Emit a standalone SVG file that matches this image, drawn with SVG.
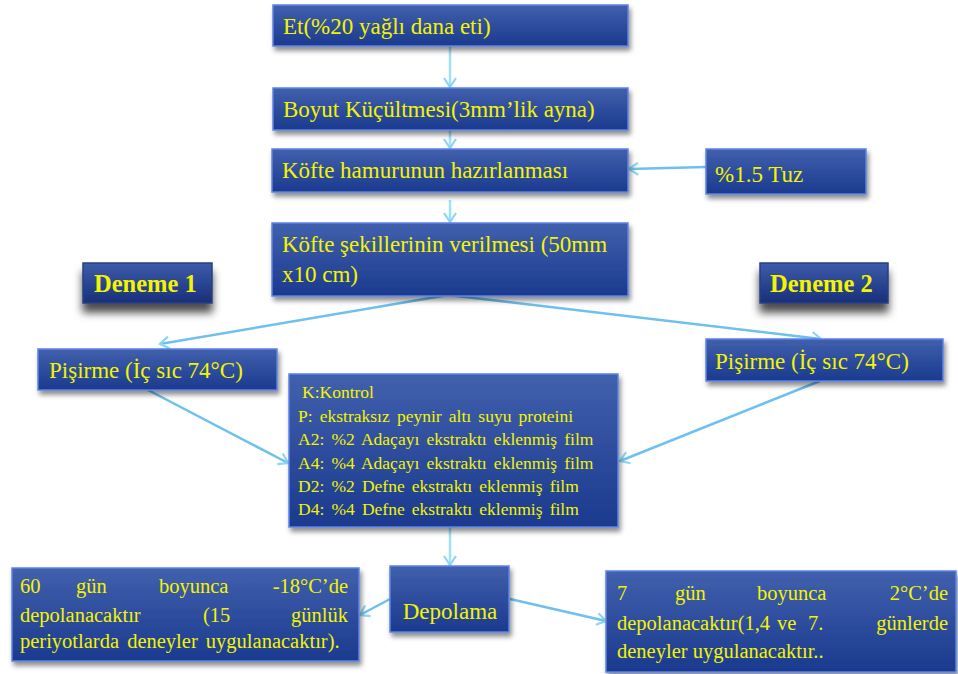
<svg xmlns="http://www.w3.org/2000/svg" width="958" height="674" viewBox="0 0 958 674">
<defs>
<linearGradient id="g" x1="0" y1="0" x2="0" y2="1">
<stop offset="0" stop-color="#4160ad"/>
<stop offset="1" stop-color="#1b3a8e"/>
</linearGradient>
<linearGradient id="gd" x1="0" y1="0" x2="0" y2="1">
<stop offset="0" stop-color="#3d5cab"/>
<stop offset="1" stop-color="#182f78"/>
</linearGradient>
<filter id="sh" x="-10%" y="-10%" width="125%" height="135%">
<feDropShadow dx="2" dy="4" stdDeviation="2.5" flood-color="#000" flood-opacity="0.45"/>
</filter>
<filter id="shd" x="-10%" y="-10%" width="125%" height="160%">
<feDropShadow dx="0" dy="9" stdDeviation="4" flood-color="#000" flood-opacity="0.7"/>
</filter>
<marker id="ah" markerWidth="14" markerHeight="14" refX="11" refY="7" orient="auto" markerUnits="userSpaceOnUse">
<polyline points="2,1 11,7 2,13" fill="none" stroke="#8ad6f5" stroke-width="2.2"/>
</marker>
<style>
.b{fill:url(#g);stroke:#5d82e6;stroke-width:1.5;filter:url(#sh)}
.bd{fill:url(#gd);stroke:#2a3f80;stroke-width:1.5;filter:url(#shd)}
.t{font-family:'Liberation Serif','Times New Roman',serif;fill:#f4f400;font-size:23px}
.s{font-size:17.5px;word-spacing:2.8px}
.m{font-size:20.5px}
.h{font-family:'Liberation Serif','Times New Roman',serif;fill:#f4f400;font-size:24.5px;font-weight:bold}
.c{fill:none;stroke:#6ec0ee;stroke-width:2.5;marker-end:url(#ah)}
.v{fill:none;stroke:#9fe2f5;stroke-width:2.5;marker-end:url(#ah)}
</style>
</defs>
<g id="connectors">
<line class="v" x1="450" y1="46" x2="450" y2="87"/>
<line class="v" x1="450" y1="130" x2="450" y2="148"/>
<line class="c" x1="706" y1="167" x2="629" y2="169"/>
<line class="v" x1="450" y1="200" x2="450" y2="222"/>
<line class="c" x1="448" y1="295" x2="160" y2="344"/>
<line class="c" x1="448" y1="295" x2="821" y2="339"/>
<line class="c" x1="148" y1="390" x2="288" y2="463"/>
<line class="c" x1="820" y1="381" x2="620" y2="461"/>
<line class="v" x1="450" y1="527" x2="450" y2="565"/>
<line class="c" x1="390" y1="599" x2="360" y2="615"/>
<line class="c" x1="510" y1="599" x2="606" y2="621"/>
</g>
<g id="n1"><rect class="b" x="273" y="5" width="355" height="41"/><text class="t" x="283" y="34">Et(%20 yağlı dana eti)</text></g>
<g id="n2"><rect class="b" x="273" y="88" width="355" height="42"/><text class="t" x="283" y="117">Boyut Küçültmesi(3mm’lik ayna)</text></g>
<g id="n3"><rect class="b" x="272" y="149" width="356" height="43"/><text class="t" x="282" y="178">Köfte hamurunun hazırlanması</text></g>
<g id="tuz"><rect class="b" x="706" y="149" width="160" height="45"/><text class="t" x="715" y="182">%1.5 Tuz</text></g>
<g id="n4"><rect class="b" x="272" y="223" width="356" height="73"/><text class="t" x="282" y="252">Köfte şekillerinin verilmesi (50mm</text><text class="t" x="282" y="282">x10 cm)</text></g>
<g id="d1"><rect class="bd" x="83" y="263" width="129" height="40"/><text class="h" x="94" y="292">Deneme 1</text></g>
<g id="d2"><rect class="bd" x="760" y="263" width="128" height="40"/><text class="h" x="770" y="292">Deneme 2</text></g>
<g id="p1"><rect class="b" x="38" y="349" width="239" height="41"/><text class="t" x="49" y="378">Pişirme (İç sıc 74°C)</text></g>
<g id="p2"><rect class="b" x="706" y="339" width="237" height="42"/><text class="t" x="715" y="369">Pişirme (İç sıc 74°C)</text></g>
<g id="list"><rect class="b" x="289" y="374" width="329" height="153"/>
<text class="t s" x="302" y="398">K:Kontrol</text>
<text class="t s" x="298" y="422">P: ekstraksız peynir altı suyu proteini</text>
<text class="t s" x="298" y="445">A2: %2 Adaçayı ekstraktı eklenmiş film</text>
<text class="t s" x="298" y="469">A4: %4 Adaçayı ekstraktı eklenmiş film</text>
<text class="t s" x="298" y="492">D2: %2 Defne ekstraktı eklenmiş film</text>
<text class="t s" x="298" y="515">D4: %4 Defne ekstraktı eklenmiş film</text>
</g>
<g id="dep"><rect class="b" x="390" y="566" width="119" height="66"/><text class="t" x="450" y="619" text-anchor="middle">Depolama</text></g>
<g id="left"><rect class="b" x="12" y="568" width="347" height="93"/>
<text class="t m" x="20" y="593">60</text><text class="t m" x="76" y="593">gün</text><text class="t m" x="159" y="593">boyunca</text><text class="t m" x="348" y="593" text-anchor="end">-18°C’de</text>
<text class="t m" x="20" y="622">depolanacaktır</text><text class="t m" x="203" y="622">(15</text><text class="t m" x="348" y="622" text-anchor="end">günlük</text>
<text class="t m" x="20" y="648" style="word-spacing:3px">periyotlarda deneyler uygulanacaktır).</text>
</g>
<g id="right"><rect class="b" x="606" y="571" width="350" height="101"/>
<text class="t m" x="617" y="600">7</text><text class="t m" x="675" y="600">gün</text><text class="t m" x="757" y="600">boyunca</text><text class="t m" x="948" y="600" text-anchor="end">2°C’de</text>
<text class="t m" x="617" y="630">depolanacaktır(1,4</text><text class="t m" x="777" y="630">ve</text><text class="t m" x="808" y="630">7.</text><text class="t m" x="948" y="630" text-anchor="end">günlerde</text>
<text class="t m" x="617" y="658">deneyler uygulanacaktır..</text>
</g>
</svg>
